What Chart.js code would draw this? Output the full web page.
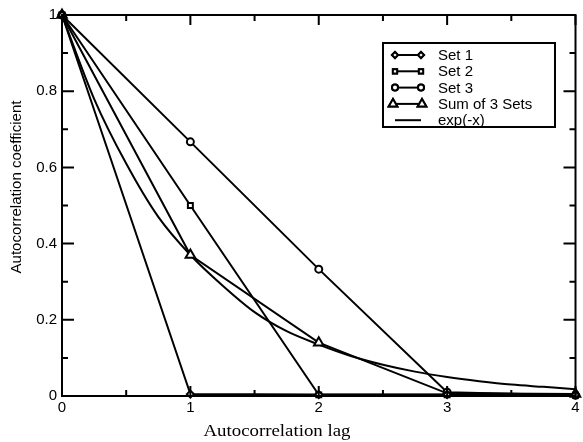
<!DOCTYPE html>
<html>
<head>
<meta charset="utf-8">
<script src="https://cdn.jsdelivr.net/npm/chart.js@4/dist/chart.umd.min.js"></script>
<style>
  html, body { margin: 0; padding: 0; background: #fff; }
  #wrap { width: 583px; height: 442px; }
</style>
</head>
<body>
<div id="wrap"><canvas id="acf"></canvas></div>
<script>
const lags = [0, 1, 2, 3, 4];
const set1 = [1, 0.005, 0.004, 0.004, 0.003];
const set2 = [1, 0.5, 0.003, 0.003, 0.002];
const set3 = [1, 0.667, 0.333, 0.01, 0.002];
const sumSets = [1, 0.37, 0.14, 0.007, 0.005];
const expLags = [0, 0.25, 0.5, 0.75, 1, 1.25, 1.5, 1.75, 2, 2.25, 2.5, 2.75, 3, 3.25, 3.5, 3.75, 4];
const expValues = [1, 0.78, 0.61, 0.47, 0.37, 0.29, 0.22, 0.17, 0.135, 0.105, 0.082, 0.064, 0.05, 0.039, 0.03, 0.024, 0.018];
const xTicks = [0, 1, 2, 3, 4];
const yTicks = [0, 0.2, 0.4, 0.6, 0.8, 1];

function pts(xs, ys) {
  return xs.map((x, i) => ({ x: x, y: ys[i] }));
}

function series(label, values, style) {
  return {
    label: label,
    data: pts(lags, values),
    borderColor: "#000",
    borderWidth: 2,
    pointStyle: style,
    pointRadius: style === "triangle" ? 5.5 : 3.5,
    pointBackgroundColor: "#fff",
    pointBorderColor: "#000",
    pointBorderWidth: 2,
    clip: false
  };
}

// text squeezed/stretched to a given width
function fitText(ctx, text, x, y, width) {
  const w = ctx.measureText(text).width;
  ctx.save();
  ctx.translate(x, y);
  ctx.scale(width / w, 1);
  ctx.fillText(text, 0, 0);
  ctx.restore();
}

// frame, inward ticks, axis titles and legend
const decorations = {
  id: "decorations",
  afterDraw(chart) {
    const ctx = chart.ctx;
    const a = chart.chartArea;
    const xs = chart.scales.x, ys = chart.scales.y;
    ctx.save();
    ctx.strokeStyle = "#000";
    ctx.lineWidth = 2;
    ctx.strokeRect(a.left, a.top, a.right - a.left, a.bottom - a.top);

    ctx.beginPath();
    for (let v = 0; v <= 4.001; v += 0.5) {
      const px = xs.getPixelForValue(v);
      const len = Math.abs(v - Math.round(v)) < 1e-6 ? 10 : 6;
      ctx.moveTo(px, a.bottom); ctx.lineTo(px, a.bottom - len);
      ctx.moveTo(px, a.top); ctx.lineTo(px, a.top + len);
    }
    for (let v = 0; v <= 1.001; v += 0.1) {
      const py = ys.getPixelForValue(v);
      const major = Math.round(v * 10) % 2 === 0;
      const len = major ? 12 : 6;
      ctx.moveTo(a.left, py); ctx.lineTo(a.left + len, py);
      ctx.moveTo(a.right, py); ctx.lineTo(a.right - len, py);
    }
    ctx.stroke();

    ctx.fillStyle = "#000";
    ctx.font = "16px 'Liberation Serif'";
    ctx.textAlign = "center";
    ctx.textBaseline = "middle";
    fitText(ctx, "Autocorrelation lag", 277, 432, 147);

    ctx.save();
    ctx.translate(17, 187);
    ctx.rotate(-Math.PI / 2);
    ctx.font = "14px 'Liberation Sans'";
    fitText(ctx, "Autocorrelation coefficient", 0, 0, 173);
    ctx.restore();

    // legend
    ctx.lineWidth = 2;
    ctx.strokeRect(383, 43, 172, 84);
    ctx.font = "15px 'Liberation Sans'";
    ctx.textAlign = "left";
    chart.data.datasets.forEach((ds, i) => {
      const y = 55 + i * 16.3;
      const x0 = ds.pointStyle === "triangle" ? 393 : 395;
      const x1 = ds.pointStyle === "triangle" ? 422 : 421;
      ctx.beginPath();
      ctx.moveTo(x0, y); ctx.lineTo(x1, y);
      ctx.stroke();
      if (ds.pointRadius > 0) {
        [x0, x1].forEach(px => {
          Chart.helpers.drawPoint(ctx, {
            pointStyle: ds.pointStyle,
            radius: ds.pointStyle === "triangle" ? 5 : 3,
            borderWidth: 2
          }, px, y);
          ctx.fillStyle = "#fff";
          ctx.fill();
          ctx.stroke();
        });
      }
      ctx.fillStyle = "#000";
      ctx.fillText(ds.label, 438, y + 1);
    });
    ctx.restore();
  }
};

new Chart(document.getElementById("acf"), {
  type: "line",
  data: {
    datasets: [
      series("Set 1", set1, "rectRot"),
      series("Set 2", set2, "rect"),
      series("Set 3", set3, "circle"),
      series("Sum of 3 Sets", sumSets, "triangle"),
      {
        label: "exp(-x)",
        data: pts(expLags, expValues),
        borderColor: "#000",
        borderWidth: 2,
        pointRadius: 0,
        cubicInterpolationMode: "monotone",
        clip: false
      }
    ]
  },
  options: {
    responsive: true,
    maintainAspectRatio: false,
    animation: false,
    layout: { padding: { top: 15, right: 0, left: 0, bottom: 0 } },
    plugins: { legend: { display: false }, tooltip: { enabled: false } },
    scales: {
      x: {
        type: "linear",
        min: 0,
        max: 4,
        afterBuildTicks: s => { s.ticks = xTicks.map(v => ({ value: v })); },
        afterFit: s => { s.height = 46; },
        grid: { display: false, drawTicks: false },
        border: { display: false },
        ticks: { color: "#000", padding: 3, font: { family: "Liberation Sans", size: 15 } }
      },
      y: {
        type: "linear",
        min: 0,
        max: 1,
        afterBuildTicks: s => { s.ticks = yTicks.map(v => ({ value: v })); },
        afterFit: s => { s.width = 62; },
        grid: { display: false, drawTicks: false },
        border: { display: false },
        ticks: { color: "#000", padding: 5, font: { family: "Liberation Sans", size: 15 },
          callback: v => String(Math.round(v * 10) / 10) }
      }
    }
  },
  plugins: [decorations]
});
</script>
</body>
</html>
